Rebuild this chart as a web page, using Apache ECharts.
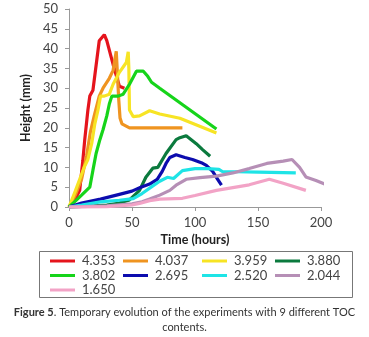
<!DOCTYPE html>
<html>
<head>
<meta charset="utf-8">
<script src="https://cdn.jsdelivr.net/npm/echarts@6/dist/echarts.min.js"></script>
<style>
html, body { margin: 0; padding: 0; background: #fff; }
#chart { width: 369px; height: 337px; }
</style>
</head>
<body>
<div id="chart"></div>
<script>
// TOC contents (legend names)
var tocNames = ['4.353', '4.037', '3.959', '3.880', '3.802', '2.695', '2.520', '2.044', '1.650'];
var lineColors = ['#e5141c', '#ef9420', '#f7e424', '#0b7a3e', '#16d41a', '#0c0cae', '#1ee4e6', '#b68fb6', '#f2a3c6'];

// [time (hours), height (mm)]
var toc4353 = [[0, 0], [5, 2], [8.5, 4.2], [11, 11.8], [12.5, 17], [15, 24.5], [16.5, 28], [19, 29.5], [24, 42], [28, 43.5], [30, 42], [35, 36], [40, 30.5], [44, 30]];
var toc4037 = [[0, 0], [5, 3], [10, 7], [14, 13], [17, 19], [20, 23], [24, 28], [27, 30], [32, 32.5], [35, 34.5], [37.5, 39.3], [39.5, 27], [40.5, 22.5], [42, 21], [48, 20], [56, 20], [90, 20]];
var toc3959 = [[0, 0], [5, 4], [8.5, 7], [12, 10], [15, 12], [18, 16], [20.5, 21], [23, 24.5], [25, 28], [28, 28], [32, 28.5], [35, 31], [40, 34], [45.5, 36.5], [47, 39.2], [47.5, 35], [48, 24.5], [51, 22.8], [56, 23], [64, 24.3], [72, 23.5], [88, 22.4], [117, 18.7]];
var toc3880 = [[0, 0], [20, 0.3], [30, 0.5], [40, 1], [48, 1.8], [56, 4.2], [61, 7.5], [66.5, 9.8], [70.5, 10], [77, 13.5], [85, 17], [88, 17.5], [93, 18], [101, 16], [106, 14.5], [112, 12.8]];
var toc3802 = [[0, 0], [5, 1.5], [10, 3], [16.5, 5], [19, 9.3], [21.5, 13.5], [24.5, 17], [27, 19.5], [30, 23], [32, 26], [34, 28], [39, 28], [43, 28.5], [48, 31], [53.5, 34.3], [59, 34.3], [62.5, 33], [65.5, 31.5], [72, 30], [117, 19.7]];
var toc2695 = [[0, 0], [10, 1], [25, 2], [40, 3.2], [50, 4], [57, 5], [64, 5.8], [70, 7], [74, 9], [77, 11], [80, 12.5], [85, 13.2], [92, 12.5], [98, 12], [105, 11.2], [109, 10.5], [114, 9], [118, 7], [121, 5.5]];
var toc2520 = [[0, 0], [10, 0.5], [25, 1.3], [40, 1.7], [51, 2.1], [58, 3.4], [66, 5.2], [72, 6.5], [78, 7.5], [83, 7.2], [90, 9.2], [100, 9.7], [110, 9.7], [119, 9.5], [122, 8.9], [133, 8.9], [150, 8.8], [180, 8.6]];
var toc2044 = [[0, 0], [30, 0.3], [50, 0.8], [58, 1.3], [64, 2], [72, 3], [80, 4.2], [85, 5.5], [93, 7], [104, 7.4], [117, 7.8], [130, 8.6], [143, 9.7], [157, 11], [170, 11.6], [177, 12], [183, 10], [188, 7.6], [196, 6.7], [205, 5.5]];
var toc1650 = [[0, 0], [30, 0.1], [50, 0.5], [56, 0.9], [64, 1.6], [72, 2], [90, 2.2], [100, 2.9], [117, 4.2], [130, 4.9], [143, 5.6], [159, 7], [170, 6], [188, 4.2]];
var allData = [toc4353, toc4037, toc3959, toc3880, toc3802, toc2695, toc2520, toc2044, toc1650];

var xTicks = [0, 50, 100, 150, 200];
var yMax = 50;

var font = 'Lato, "DejaVu Sans", sans-serif';
var chart = echarts.init(document.getElementById('chart'));

var series = [];
for (var i = 0; i < tocNames.length; i++) {
    series.push({
        name: tocNames[i],
        type: 'line',
        data: allData[i],
        showSymbol: false,
        clip: false,
        lineStyle: { width: 3.2, color: lineColors[i] },
        itemStyle: { color: lineColors[i] },
        animation: false
    });
}

// one vertical legend per column, like the boxed legend in the figure
var legendCols = [[0, 4, 8], [1, 5], [2, 6], [3, 7]];
var legendLeft = [50, 123, 202, 275];
var legends = [];
for (var c = 0; c < legendCols.length; c++) {
    legends.push({
        orient: 'vertical',
        left: legendLeft[c],
        top: 254.5,
        icon: 'rect',
        itemWidth: 25,
        itemHeight: 3,
        itemGap: 1.5,
        padding: 0,
        selectedMode: false,
        textStyle: { fontFamily: font, fontSize: 13, color: '#444', padding: [0, 0, 0, 2] },
        data: legendCols[c].map(function(k) { return tocNames[k]; })
    });
}

var option = {
    animation: false,
    textStyle: { fontFamily: font },
    title: {
        text: '{b|Figure 5}. Temporary evolution of the experiments with 9 different TOC\ncontents.',
        left: 'center',
        top: 305,
        padding: 0,
        textStyle: {
            fontFamily: font,
            fontSize: 11,
            fontWeight: 'normal',
            color: '#333',
            lineHeight: 15,
            rich: { b: { fontFamily: font, fontSize: 11, fontWeight: 'bold', color: '#333' } }
        }
    },
    legend: legends,
    grid: { left: 69, right: 48, top: 9, bottom: 130, containLabel: false },
    xAxis: {
        type: 'value',
        min: xTicks[0],
        max: xTicks[xTicks.length - 1],
        interval: 50,
        name: 'Time (hours)',
        nameLocation: 'middle',
        nameGap: 26,
        nameTextStyle: { fontFamily: font, fontSize: 12.5, fontWeight: 'bold', color: '#222' },
        axisLine: { lineStyle: { color: '#999', width: 1 } },
        axisTick: { length: 4, lineStyle: { color: '#999' } },
        axisLabel: { margin: 9, fontSize: 13, color: '#444', fontFamily: font },
        splitLine: { show: false }
    },
    yAxis: {
        type: 'value',
        min: 0,
        max: yMax,
        interval: 5,
        name: 'Height (mm)',
        nameLocation: 'middle',
        nameGap: 27,
        nameTextStyle: { fontFamily: font, fontSize: 12.5, fontWeight: 'bold', color: '#222' },
        axisLine: { show: true, lineStyle: { color: '#999', width: 1 } },
        axisTick: { show: true, length: 4, lineStyle: { color: '#999' } },
        axisLabel: { margin: 11, fontSize: 13, color: '#444', fontFamily: font },
        splitLine: { show: false }
    },
    graphic: [{
        type: 'rect',
        shape: { x: 39.5, y: 251.5, width: 313, height: 46 },
        style: { fill: 'none', stroke: '#777', lineWidth: 1 },
        silent: true
    }],
    series: series
};
chart.setOption(option);
</script>
</body>
</html>
